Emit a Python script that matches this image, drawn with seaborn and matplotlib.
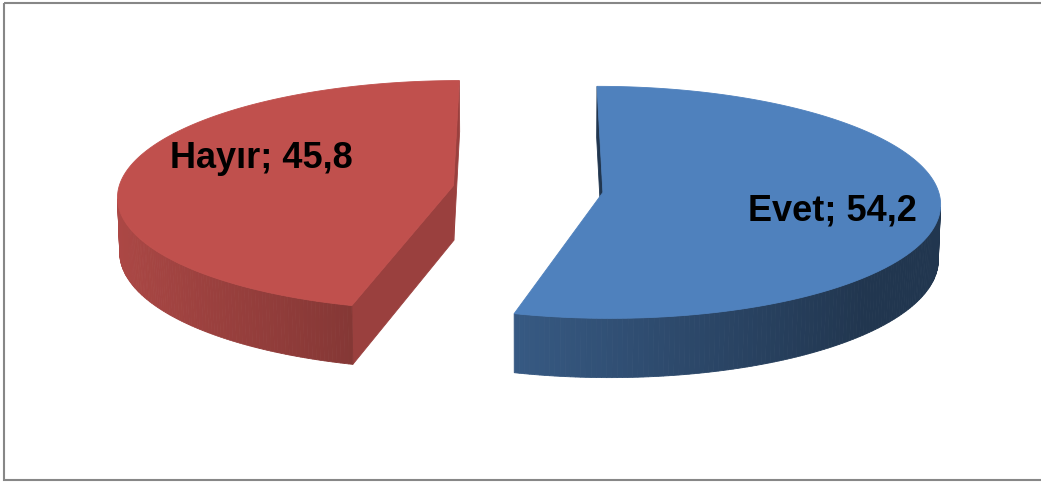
import numpy as np
import matplotlib
matplotlib.use("Agg")
import matplotlib.pyplot as plt
from matplotlib.patches import Polygon, Rectangle
import seaborn as sns

# data
labels = ["Evet", "Hayır"]
values = [54.2, 45.8]
colors = ["#4F81BD", "#C0504D"]

# label placement (degrees shift from slice middle, fraction of radius)
label_shift = [6, 15]
label_radius = [0.69, 0.64]

sns.set_theme(style="white")
plt.rcParams['font.family'] = ['Liberation Sans', 'DejaVu Sans']

W, H = 1041, 482
fig = plt.figure(figsize=(W / 100, H / 100), dpi=100)
ax = fig.add_axes([0, 0, 1, 1])
ax.set_xlim(0, W)
ax.set_ylim(H, 0)
ax.axis('off')

# 3d pie look (perspective camera)
elev = np.radians(20)
dist = 11.0
explode = 0.225
depth = 0.175
scale = 335
cx, cy = 528, 189
cam = np.array([0.0, -dist * np.cos(elev), dist * np.sin(elev)])


def project(u, v, z):
    zc = dist + v * np.cos(elev) - z * np.sin(elev)
    sx = u * dist / zc
    sy = (v * np.sin(elev) + z * np.cos(elev)) * dist / zc
    return cx + scale * sx, cy - scale * sy


def shade(col, f):
    r, g, b = sns.color_palette([col])[0]
    return (r * f, g * f, b * f)


def visible(p, n):
    return np.dot(cam - p, n) > 0


def wall_quad(u, v):
    x0, y0 = project(u, v, 0.0)
    x1, y1 = project(u, v, -depth)
    return np.column_stack([np.r_[x0, x1[::-1]], np.r_[y0, y1[::-1]]])


pal = sns.color_palette(colors)
total = sum(values)
start = 0.0
for i, (lab, val) in enumerate(zip(labels, values)):
    a0 = start
    a1 = start + 360.0 * val / total
    start = a1
    mid = np.radians((a0 + a1) / 2)
    ou, ov = explode * np.sin(mid), explode * np.cos(mid)

    th = np.radians(np.linspace(a0, a1, 240))
    ru, rv = ou + np.sin(th), ov + np.cos(th)

    faces = []
    # outer curved wall
    for k in range(len(th) - 1):
        tm = (th[k] + th[k + 1]) / 2
        pm = np.array([(ru[k] + ru[k + 1]) / 2, (rv[k] + rv[k + 1]) / 2, 0.0])
        n = np.array([np.sin(tm), np.cos(tm), 0.0])
        if not visible(pm, n):
            continue
        f = max(0.42, 0.62 + 0.28 * (-np.sin(tm)))
        quad = wall_quad(np.array([ru[k], ru[k + 1]]), np.array([rv[k], rv[k + 1]]))
        zc = dist + pm[1] * np.cos(elev)
        faces.append((zc, quad, shade(colors[i], f)))

    # radial walls
    for ang, nang in [(a0, a0 - 90), (a1, a1 + 90)]:
        t = np.radians(ang)
        tn = np.radians(nang)
        n = np.array([np.sin(tn), np.cos(tn), 0.0])
        pm = np.array([ou + 0.5 * np.sin(t), ov + 0.5 * np.cos(t), 0.0])
        if not visible(pm, n):
            continue
        f = 0.8 if n[0] > 0 else 0.42
        quad = wall_quad(np.array([ou, ou + np.sin(t)]), np.array([ov, ov + np.cos(t)]))
        zc = dist + pm[1] * np.cos(elev)
        faces.append((zc, quad, shade(colors[i], f)))

    for zc, quad, c in sorted(faces, key=lambda q: -q[0]):
        ax.add_patch(Polygon(quad, closed=True, fc=c, ec=c, lw=0.6))

    # top face
    tu = np.r_[ou, ru]
    tv = np.r_[ov, rv]
    tx, ty = project(tu, tv, 0.0)
    ax.add_patch(Polygon(np.column_stack([tx, ty]), closed=True,
                         fc=pal[i], ec=pal[i], lw=0.6))

    # label
    la = mid + np.radians(label_shift[i])
    lx, ly = project(ou + label_radius[i] * np.sin(la),
                     ov + label_radius[i] * np.cos(la), 0.0)
    txt = f"{lab}; {val:.1f}".replace(".", ",")
    ax.text(lx, ly, txt, ha='center', va='center', fontsize=26,
            fontweight='bold', color='black')

# chart border
ax.add_patch(Rectangle((3.5, 2.5), 1100, 477, fill=False, ec='#878787',
                       lw=1.5, clip_on=False))

fig.savefig("out.png", dpi=100)
